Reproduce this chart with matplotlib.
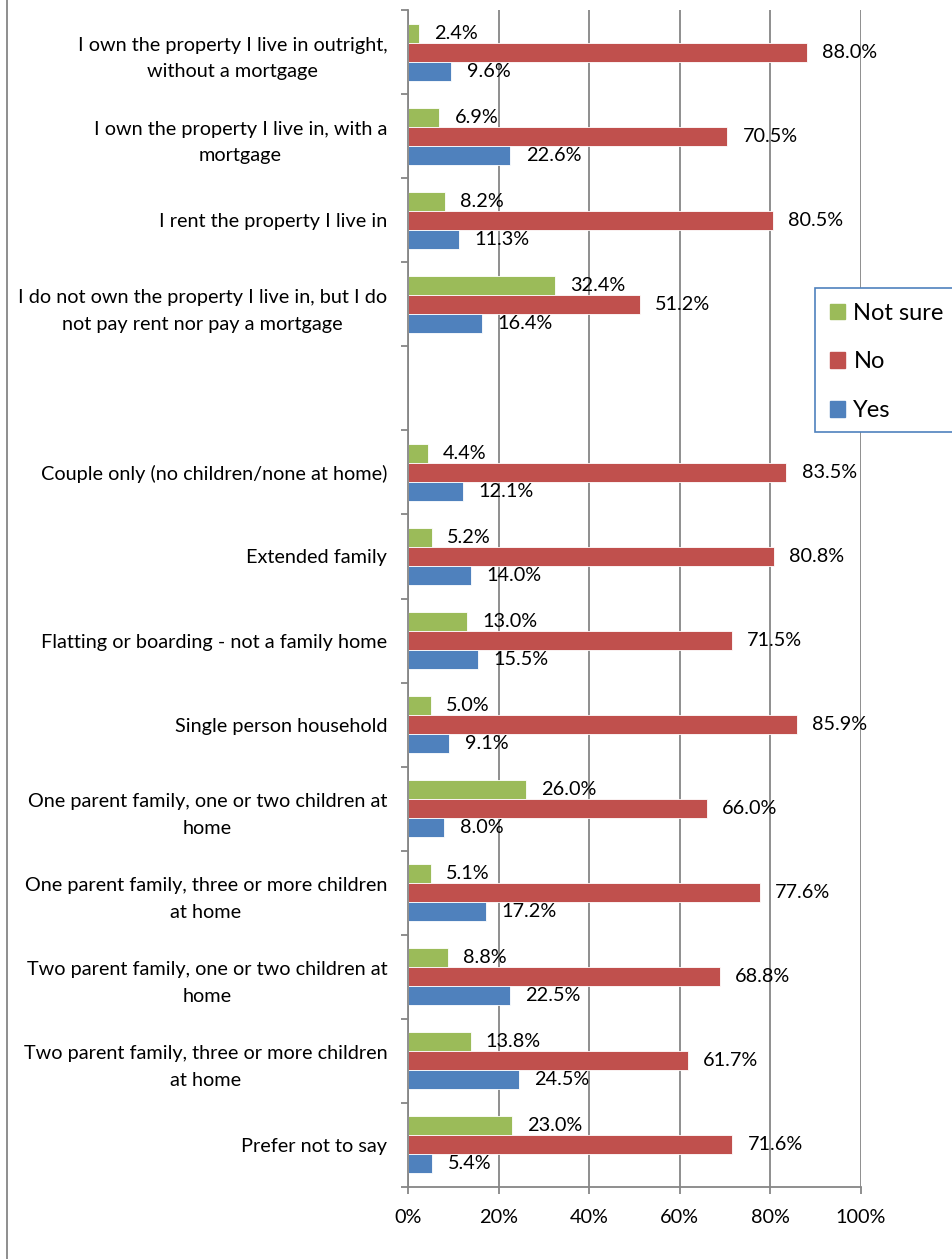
import numpy as np
import matplotlib.pyplot as plt
from matplotlib.lines import Line2D
from matplotlib.patches import Rectangle

plt.rcParams['font.family'] = ['Lato', 'DejaVu Sans']

# 응답 카테고리 (빈 칸은 두 그룹 사이의 간격)
categories = [
    "I own the property I live in outright,\nwithout a mortgage",
    "I own the property I live in, with a\nmortgage",
    "I rent the property I live in",
    "I do not own the property I live in, but I do\nnot pay rent nor pay a mortgage",
    "",
    "Couple only (no children/none at home)",
    "Extended family",
    "Flatting or boarding - not a family home",
    "Single person household",
    "One parent family, one or two children at\nhome",
    "One parent family, three or more children\nat home",
    "Two parent family, one or two children at\nhome",
    "Two parent family, three or more children\nat home",
    "Prefer not to say",
]
not_sure = [2.4, 6.9, 8.2, 32.4, None, 4.4, 5.2, 13.0, 5.0, 26.0, 5.1, 8.8, 13.8, 23.0]
no = [88.0, 70.5, 80.5, 51.2, None, 83.5, 80.8, 71.5, 85.9, 66.0, 77.6, 68.8, 61.7, 71.6]
yes = [9.6, 22.6, 11.3, 16.4, None, 12.1, 14.0, 15.5, 9.1, 8.0, 17.2, 22.5, 24.5, 5.4]
xticks = [0, 20, 40, 60, 80, 100]

green, red, blue = '#9BBB59', '#C0504D', '#4F81BD'
grey = '#868686'
fs = 14.3

fig = plt.figure(figsize=(9.52, 12.59), dpi=100)
ax = fig.add_axes([408/952, 1 - 1187/1259, 453/952, 1177/1259])

y = np.arange(len(categories))
h = 0.226
series = [(not_sure, -h, green, 'Not sure'), (no, 0, red, 'No'), (yes, h, blue, 'Yes')]
for vals, off, col, name in series:
    for i, v in enumerate(vals):
        if v is None:
            continue
        ax.barh(y[i] + off, v, height=h, color=col, edgecolor='white', linewidth=0.6)
        ax.annotate(f"{v:.1f}%", (v, y[i] + off), xytext=(11, 0), textcoords='offset points',
                    va='center', ha='left', fontsize=fs, color='black')

ax.set_xlim(0, 100)
ax.set_ylim(len(categories) - 0.5, -0.5)
ax.set_xticks(xticks)
ax.set_xticklabels([f"{t}%" for t in xticks], fontsize=fs)
ax.set_yticks(y)
ax.set_yticklabels(categories, fontsize=fs, multialignment='center', linespacing=1.7)
ax.set_yticks(np.arange(len(categories) + 1) - 0.5, minor=True)
ax.tick_params(axis='y', which='major', length=0, pad=15)
ax.tick_params(axis='y', which='minor', length=5, color=grey, width=1.3)
ax.tick_params(axis='x', length=5, color=grey, width=1.3, pad=11)
ax.xaxis.grid(True, color=grey, linewidth=1.3)
ax.set_axisbelow(True)
for s in ['top', 'right']:
    ax.spines[s].set_visible(False)
for s in ['left', 'bottom']:
    ax.spines[s].set_color(grey)
    ax.spines[s].set_linewidth(1.3)

# 왼쪽 차트 테두리
fig.add_artist(Line2D([7/952, 7/952], [0, 1], color=grey, linewidth=1.3))

# 범례 상자
fig.add_artist(Rectangle((815/952, 1 - 432/1259), 150/952, 144/1259, facecolor='white',
                         edgecolor=blue, linewidth=1.2, transform=fig.transFigure))
handles = [Rectangle((0, 0), 1, 1, color=c) for c in [green, red, blue]]
fig.legend(handles, ['Not sure', 'No', 'Yes'], loc='upper left', frameon=False,
           bbox_to_anchor=(818/952, 1 - 291/1259), fontsize=17, handlelength=0.65,
           handleheight=0.65, handletextpad=0.35, labelspacing=1.17, borderpad=0)

fig.savefig('out.png', dpi=100)
